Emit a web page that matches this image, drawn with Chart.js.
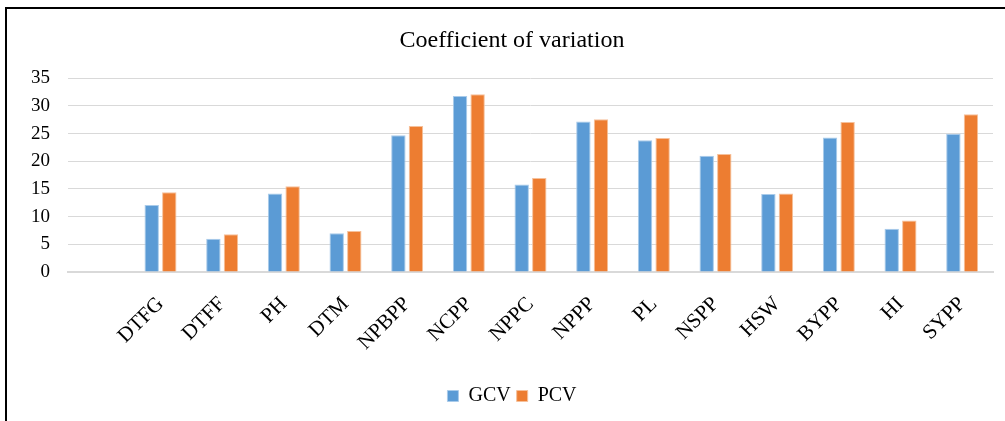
<!DOCTYPE html>
<html>
<head>
<meta charset="utf-8">
<script src="https://cdn.jsdelivr.net/npm/chart.js@4/dist/chart.umd.min.js"></script>
<style>
    html, body { margin: 0; padding: 0; background: #fff; }
    #wrap { position: relative; width: 1005px; height: 421px; overflow: hidden; }
    #frame {
        position: absolute; left: 5px; top: 7px; right: -4px; bottom: -4px;
        border-left: 2px solid #000; border-top: 2px solid #000;
        pointer-events: none;
    }
</style>
</head>
<body>
<div id="wrap">
    <canvas id="cvChart" width="1005" height="421"></canvas>
    <div id="frame"></div>
</div>
<script>
// Dữ liệu (ô đầu tiên để trống)
const categories = ['', 'DTFG', 'DTFF', 'PH', 'DTM', 'NPBPP', 'NCPP', 'NPPC', 'NPPP', 'PL', 'NSPP', 'HSW', 'BYPP', 'HI', 'SYPP'];
const gcvValues = [null, 12.1, 6.0, 14.2, 7.0, 24.7, 31.8, 15.8, 27.2, 23.8, 21.0, 14.1, 24.3, 7.8, 25.0];
const pcvValues = [null, 14.4, 6.8, 15.5, 7.4, 26.4, 32.1, 17.0, 27.6, 24.2, 21.3, 14.2, 27.1, 9.3, 28.5];
const yTicks = [0, 5, 10, 15, 20, 25, 30, 35];

const serif = "'Liberation Serif', 'Times New Roman', serif";

document.addEventListener('DOMContentLoaded', function() {
    initCvChart();
});

function initCvChart() {
    const ctx = document.getElementById('cvChart');
    if (!ctx) return;

    new Chart(ctx, {
        type: 'bar',
        data: {
            labels: categories,
            datasets: [
                {
                    label: 'GCV',
                    data: gcvValues,
                    backgroundColor: '#5B9BD5',
                    borderColor: '#A9CBEA', // viền sáng nhẹ như Excel
                    borderWidth: 1
                },
                {
                    label: 'PCV',
                    data: pcvValues,
                    backgroundColor: '#ED7D31',
                    borderColor: '#F6C09A',
                    borderWidth: 1
                }
            ]
        },
        options: {
            responsive: false,
            animation: false,
            categoryPercentage: 0.57,
            barPercentage: 0.82,
            layout: { padding: { left: 31, right: 12, top: 0, bottom: 5 } },
            plugins: {
                title: {
                    display: true,
                    text: 'Coefficient of variation',
                    color: '#000',
                    font: { family: serif, size: 24, weight: 'normal' },
                    padding: { top: 26.5, bottom: 23 }
                },
                legend: {
                    position: 'bottom',
                    labels: {
                        color: '#000',
                        boxWidth: 11,
                        boxHeight: 11,
                        padding: 6,
                        font: { family: serif, size: 20 }
                    }
                },
                tooltip: { enabled: false }
            },
            scales: {
                y: {
                    min: 0,
                    max: 35,
                    afterFit: function(scale) { scale.width = 37; },
                    afterBuildTicks: function(scale) {
                        scale.ticks = yTicks.map(v => ({ value: v }));
                    },
                    grid: { color: '#D9D9D9', drawTicks: false },
                    border: { display: false },
                    ticks: {
                        color: '#000',
                        padding: 18,
                        font: { family: serif, size: 19 }
                    }
                },
                x: {
                    afterFit: function(scale) { scale.height = 108; },
                    grid: { display: false },
                    border: { display: true, color: '#D9D9D9', width: 2 },
                    ticks: {
                        color: '#000',
                        minRotation: 45,
                        maxRotation: 45,
                        autoSkip: false,
                        padding: 12,
                        font: { family: serif, size: 21 }
                    }
                }
            }
        }
    });
}
</script>
</body>
</html>
